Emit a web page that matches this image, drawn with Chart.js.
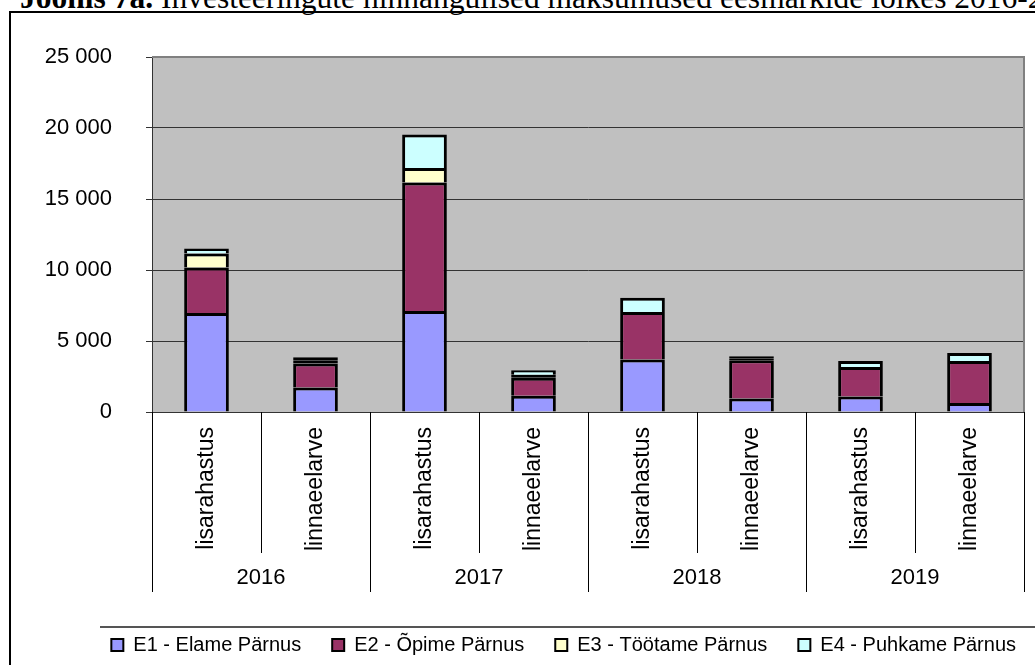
<!DOCTYPE html>
<html>
<head>
<meta charset="utf-8">
<script src="https://cdn.jsdelivr.net/npm/chart.js@4.4.1/dist/chart.umd.min.js"></script>
<style>
  html, body { margin: 0; padding: 0; background: #fff; width: 1035px; height: 665px; overflow: hidden; }
  #frame { position: absolute; left: 9px; top: 11px; width: 1100px; height: 700px; border: 2px solid #000; box-sizing: border-box; }
  #title { position: absolute; left: 20px; top: -18px; font-family: "Liberation Serif", "Times New Roman", serif; font-size: 31.5px; line-height: 1; white-space: nowrap; color: #000; }
  #wrap { position: absolute; left: 0; top: 0; width: 1035px; height: 665px; }
</style>
</head>
<body>
<div id="frame"></div>
<div id="title"><b>Joonis 7a.</b> Investeeringute hinnangulised maksumused eesmärkide lõikes 2016-2019</div>
<div id="wrap"><canvas id="c" width="1035" height="665"></canvas></div>
<script>
const categories = ['lisarahastus', 'linnaeelarve', 'lisarahastus', 'linnaeelarve', 'lisarahastus', 'linnaeelarve', 'lisarahastus', 'linnaeelarve'];
const years = ['2016', '2017', '2018', '2019'];
const seriesNames = ['E1 - Elame Pärnus', 'E2 - Õpime Pärnus', 'E3 - Töötame Pärnus', 'E4 - Puhkame Pärnus'];
const e1 = [6970, 1720, 7110, 1150, 3700, 950, 1100, 630];
const e2 = [3200, 1690, 9050, 1270, 3350, 2700, 2070, 2960];
const e3 = [1000, 200, 1030, 200, 0, 130, 0, 0];
const e4 = [350, 240, 2350, 320, 1000, 150, 420, 560];
const yTicks = [0, 5000, 10000, 15000, 20000, 25000];
const colors = ['#9999FF', '#993366', '#FFFFCC', '#CCFFFF'];

const FONT = "'Liberation Sans', Arial, sans-serif";
const fmt = v => String(v).replace(/\B(?=(\d{3})+(?!\d))/g, ' ');

const decor = {
  id: 'decor',
  beforeDraw(chart) {
    const {ctx, chartArea: a} = chart;
    ctx.save();
    ctx.fillStyle = '#c0c0c0';
    ctx.fillRect(a.left, a.top, a.right - a.left, a.bottom - a.top);
    ctx.restore();
  },
  beforeDatasetsDraw(chart) {
    const {ctx, chartArea: a} = chart;
    ctx.save();
    ctx.strokeStyle = '#808080';
    ctx.lineWidth = 2;
    ctx.beginPath();
    ctx.moveTo(a.left, a.top);
    ctx.lineTo(a.right, a.top);
    ctx.lineTo(a.right, a.bottom);
    ctx.stroke();
    ctx.restore();
  },
  afterDraw(chart) {
    const {ctx} = chart;
    const x = chart.scales.x;
    const x2 = chart.scales.x2;
    const n = categories.length;
    const step = (x.right - x.left) / n;
    ctx.save();
    ctx.strokeStyle = '#000';
    ctx.lineWidth = 1;
    for (let i = 0; i <= n; i++) {
      const px = Math.round(x.left + i * step) + 0.5;
      const yEnd = (i % 2 === 0) ? x2.top + 39 : x.bottom;
      ctx.beginPath();
      ctx.moveTo(px, x.top);
      ctx.lineTo(px, yEnd);
      ctx.stroke();
    }
    ctx.strokeStyle = '#555';
    ctx.lineWidth = 2;
    ctx.beginPath();
    ctx.moveTo(100, 627);
    ctx.lineTo(1035, 627);
    ctx.stroke();
    ctx.restore();
  }
};

const datasets = [e1, e2, e3, e4].map((d, i) => ({
  label: seriesNames[i],
  data: d,
  backgroundColor: colors[i],
  borderColor: '#000',
  borderWidth: 3,
  borderSkipped: c => (c.raw > 0 && c.raw < 300) ? false : 'start',
  xAxisID: 'x',
  yAxisID: 'y',
  barPercentage: 1,
  categoryPercentage: 0.41
}));

new Chart(document.getElementById('c'), {
  type: 'bar',
  data: { labels: categories, datasets },
  plugins: [decor],
  options: {
    responsive: false,
    animation: false,
    layout: { padding: { left: 0, right: -12, top: 57, bottom: 0 } },
    plugins: {
      tooltip: { enabled: false },
      legend: {
        position: 'bottom',
        align: 'end',
        labels: {
          font: { family: FONT, size: 20 },
          color: '#000',
          boxWidth: 12,
          boxHeight: 12,
          padding: 31,
          generateLabels(chart) {
            const items = Chart.defaults.plugins.legend.labels.generateLabels(chart);
            items.forEach(it => { it.lineWidth = 2; });
            return items;
          }
        }
      }
    },
    scales: {
      x: {
        type: 'category',
        position: 'bottom',
        stacked: true,
        offset: true,
        grid: { display: false, drawTicks: false },
        border: { display: true, color: '#333', width: 1 },
        ticks: {
          autoSkip: false,
          minRotation: 90,
          maxRotation: 90,
          padding: 15,
          color: '#000',
          font: { family: FONT, size: 23 }
        },
        afterFit(s) { s.height = 141; }
      },
      x2: {
        type: 'category',
        position: 'bottom',
        labels: years,
        offset: true,
        grid: { display: false, drawTicks: false },
        border: { display: false },
        ticks: {
          autoSkip: false,
          maxRotation: 0,
          minRotation: 0,
          padding: 12,
          color: '#000',
          font: { family: FONT, size: 22 }
        },
        afterFit(s) { s.height = 51; }
      },
      y: {
        stacked: true,
        min: 0,
        max: 25000,
        afterBuildTicks(s) { s.ticks = yTicks.map(v => ({ value: v })); },
        grid: { color: '#333', lineWidth: 1, tickLength: 6, drawTicks: true },
        border: { display: true, color: '#333', width: 1 },
        ticks: {
          padding: 34,
          color: '#000',
          font: { family: FONT, size: 22 },
          callback: v => fmt(v)
        },
        afterFit(s) { s.width = 152; }
      },
      y2: {
        position: 'right',
        display: true,
        grid: { display: false, drawTicks: false },
        border: { display: false },
        ticks: { display: false },
        afterFit(s) { s.width = 23; }
      }
    }
  }
});
</script>
</body>
</html>
